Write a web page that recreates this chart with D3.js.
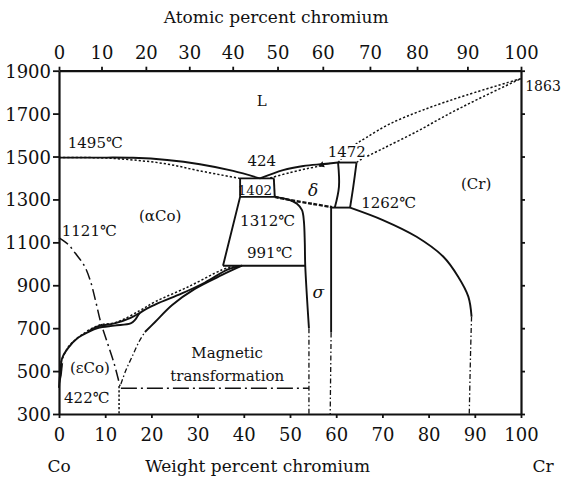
<!DOCTYPE html>
<html>
<head>
<meta charset="utf-8">
<script src="https://cdn.jsdelivr.net/npm/d3@7"></script>
<style>
  body { margin: 0; background: #fff; }
  svg text { font-family: "DejaVu Serif", serif; fill: #111; }
</style>
</head>
<body>
<div id="chart"></div>
<script>
// ---- DATA (weight % Cr, temperature °C) ----
const wtTicks = [0, 10, 20, 30, 40, 50, 60, 70, 80, 90, 100];
const tempTicks = [300, 500, 700, 900, 1100, 1300, 1500, 1700, 1900];
const atomicTicks = [0, 10, 20, 30, 40, 50, 60, 70, 80, 90, 100];
const atomicAsWt = [0, 9.2, 18.8, 28.2, 37.6, 47.3, 57.1, 67.3, 77.5, 88.4, 100];

// Co-side liquidus / solidus
const liquidusCo = [[0, 1495], [8, 1495], [16, 1494], [23.4, 1484], [30.5, 1464], [37.7, 1433], [43.5, 1398]];
const solidusCo = [[0, 1495], [8.9, 1494], [16, 1484], [23.4, 1465], [30.5, 1433], [39.2, 1398]];
const eutectic = [[39.2, 1398], [46.5, 1398]];
const alphaBound = [[39.2, 1398], [39.2, 1312], [35.5, 991]];
const boxRight = [[46.5, 1398], [46.7, 1312]];
const line1312 = [[39.2, 1312], [46.7, 1312]];
const sigmaLeft = [[46.7, 1312], [49.5, 1300], [51.5, 1280], [52.6, 1250], [53.0, 1200], [53.2, 1100], [53.3, 991], [54.1, 700]];
const sigmaLeftLow = [[54.1, 700], [54.1, 300]];
const line991 = [[35.5, 991], [53.3, 991]];
const deltaLower = [[46.7, 1312], [49.3, 1300], [55, 1279], [59.1, 1264]];
const deltaLiquidus = [[43.5, 1398], [48.5, 1437], [52.9, 1456], [57.2, 1465], [60.4, 1472]];
const deltaSolidus = [[45.7, 1400], [50, 1425], [54, 1445], [57.2, 1458]];
const peritectic = [[60.4, 1472], [64.4, 1472]];
const deltaBoxLeft = [[60.4, 1472], [60.6, 1360], [59.7, 1262]];
const deltaBoxRight = [[64.4, 1472], [63.7, 1360], [63.0, 1262]];
const line1262 = [[58.9, 1262], [63.0, 1262]];
const sigmaRight = [[58.9, 1262], [58.9, 680]];
const sigmaRightLow = [[58.9, 680], [58.7, 300]];
const crSolvus = [[63.0, 1262], [70.1, 1204], [77.4, 1126], [83.2, 1033], [86.4, 940], [88.6, 847], [89.3, 754]];
const crSolvusLow = [[89.3, 754], [89.1, 600], [88.8, 300]];
const liquidusCr = [[60.4, 1472], [63.5, 1545], [66.5, 1588], [71.6, 1652], [78.8, 1717], [88.3, 1787], [100, 1863]];
const solidusCr = [[64.4, 1472], [65.2, 1484], [70.2, 1538], [77.4, 1616], [84.6, 1701], [91.8, 1779], [100, 1863]];
const trans1121 = [[0, 1121], [2, 1090], [3.5, 1050], [5.5, 990], [6.8, 920], [8, 820], [9, 730], [10.5, 630], [12, 530], [13.2, 430]];
const trans1121Low = [[13.0, 430], [13.0, 300]];
const magnetic = [[13.4, 420], [54.1, 420]];
const curieLow = [[13.4, 440], [14.5, 505], [15.8, 566], [17.3, 636], [18.6, 682]];
const curieHigh = [[18.6, 682], [20.8, 729], [24.5, 808], [29.4, 883], [35.3, 948], [39.6, 991]];
const epsLower = [[0, 422], [0.3, 500], [0.7, 561], [2.0, 608], [4.1, 655], [6.3, 682], [8.4, 701], [12, 712], [15.5, 722], [16.5, 740], [17.5, 770], [20.8, 810], [26.6, 862], [31.6, 913], [36.6, 974], [39.6, 991]];
const epsUpper = [[6.3, 684], [8.4, 708], [12, 722], [15.5, 748], [17.5, 772]];
const epsDotted = [[0.4, 540], [2, 612], [4.5, 662], [8.4, 712], [12.5, 728], [17.5, 782], [20.8, 823], [28, 893], [35.2, 971], [38.1, 991]];
const epsWedge = [[0, 422], [0.6, 480], [0.9, 540], [0, 520]];

// labels: [text, wt%, °C, anchor, style]
const labels = [
  ["1495℃", 1.9, 1540, "start", ""],
  ["L", 43.9, 1736, "middle", ""],
  ["424", 43.9, 1456, "middle", ""],
  ["1402", 42.4, 1321, "middle", "small"],
  ["1472", 62.3, 1498, "middle", "halo"],
  ["δ", 55, 1316, "middle", "italic"],
  ["(Cr)", 90.3, 1349, "middle", ""],
  ["1262℃", 65.4, 1260, "start", ""],
  ["(αCo)", 21.9, 1200, "middle", ""],
  ["1121℃", 0.6, 1130, "start", ""],
  ["1312℃", 39.2, 1176, "start", ""],
  ["991℃", 40.7, 1027, "start", ""],
  ["σ", 56.1, 841, "middle", "italic"],
  ["Magnetic", 36.4, 561, "middle", ""],
  ["transformation", 36.4, 454, "middle", ""],
  ["(εCo)", 6.7, 491, "middle", ""],
  ["422℃", 1.1, 351, "start", ""],
  ["1863", 100.9, 1805, "start", "narrow"]
];

// ---- SETUP ----
const width = 563, height = 479;
const svg = d3.select("#chart").append("svg")
  .attr("width", width)
  .attr("height", height);

const x = d3.scaleLinear().domain([0, 100]).range([59, 521]);
const y = d3.scaleLinear().domain([300, 1900]).range([414, 70.7]);
const xAt = d3.scaleLinear().domain(atomicTicks).range(atomicAsWt.map(x));

// ---- CURVES ----
const smooth = d3.line().x(d => x(d[0])).y(d => y(d[1])).curve(d3.curveCatmullRom.alpha(0.5));
const straight = d3.line().x(d => x(d[0])).y(d => y(d[1]));

const styles = {
  solid: { w: 1.9, dash: null },
  dotted: { w: 1.5, dash: "2.2,2" },
  heavy: { w: 2.4, dash: "4,1.6" },
  dashdot: { w: 1.5, dash: "11,4,2,4" },
  longdash: { w: 1.6, dash: "16,4,2,4" },
  fine: { w: 1.3, dash: "5,2.5,1.5,2.5" }
};

const curves = [
  [liquidusCo, "solid", smooth], [solidusCo, "dotted", smooth],
  [eutectic, "solid", straight], [alphaBound, "solid", straight],
  [boxRight, "solid", straight], [line1312, "solid", straight],
  [sigmaLeft, "solid", smooth], [sigmaLeftLow, "fine", straight],
  [line991, "solid", straight], [deltaLower, "heavy", smooth],
  [deltaLiquidus, "solid", smooth], [deltaSolidus, "dotted", smooth],
  [peritectic, "solid", straight], [deltaBoxLeft, "solid", smooth],
  [deltaBoxRight, "solid", smooth], [line1262, "solid", straight],
  [sigmaRight, "solid", straight], [sigmaRightLow, "fine", straight],
  [crSolvus, "solid", smooth], [crSolvusLow, "fine", smooth],
  [liquidusCr, "dotted", smooth], [solidusCr, "dotted", smooth],
  [trans1121, "dashdot", smooth], [trans1121Low, "dotted", straight],
  [magnetic, "longdash", straight],
  [curieLow, "fine", smooth], [curieHigh, "solid", smooth],
  [epsLower, "solid", smooth], [epsUpper, "solid", smooth],
  [epsDotted, "dotted", smooth]
];

const g = svg.append("g");
curves.forEach(([pts, st, gen]) => {
  g.append("path")
    .attr("d", gen(pts))
    .attr("fill", "none")
    .attr("stroke", "#111")
    .attr("stroke-width", styles[st].w)
    .attr("stroke-dasharray", styles[st].dash)
    .attr("stroke-linejoin", "round");
});
// filled sliver where the eps boundary leaves the Co axis
g.append("path").attr("d", straight(epsWedge) + "Z").attr("fill", "#111");

// ---- AXES ----
const axisFont = "18px";
const axLeft = svg.append("g").attr("transform", `translate(${x(0)},0)`)
  .call(d3.axisLeft(y).tickValues(tempTicks).tickSize(6).tickSizeOuter(0).tickPadding(2)
    .tickFormat(d3.format("d")));
const axRight = svg.append("g").attr("transform", `translate(${x(100)},0)`)
  .call(d3.axisRight(y).tickValues(tempTicks).tickSize(4).tickSizeOuter(0).tickFormat(""));
const axBottom = svg.append("g").attr("transform", `translate(0,${y(300)})`)
  .call(d3.axisBottom(x).tickValues(wtTicks).tickSize(4).tickSizeOuter(0).tickPadding(10));
const axTop = svg.append("g").attr("transform", `translate(0,${y(1900)})`)
  .call(d3.axisTop(xAt).tickValues(atomicTicks).tickSize(4).tickSizeOuter(0).tickPadding(8));

[axLeft, axRight, axBottom, axTop].forEach(a => {
  a.select(".domain").attr("stroke", "#111").attr("stroke-width", 2.2);
  a.selectAll(".tick line").attr("stroke", "#111").attr("stroke-width", 1.8);
  a.selectAll(".tick text").attr("font-size", axisFont).attr("fill", "#111")
    .attr("font-family", "DejaVu Serif");
});
axLeft.selectAll(".tick text").attr("dy", "0.36em");

// axis titles
svg.append("text").attr("x", x(47)).attr("y", 23).attr("text-anchor", "middle")
  .attr("font-size", "17px").text("Atomic percent chromium");
svg.append("text").attr("x", x(43)).attr("y", 472).attr("text-anchor", "middle")
  .attr("font-size", "17px").text("Weight percent chromium");
svg.append("text").attr("x", x(0)).attr("y", 472).attr("text-anchor", "middle")
  .attr("font-size", "17px").text("Co");
svg.append("text").attr("x", x(100) + 22).attr("y", 472).attr("text-anchor", "middle")
  .attr("font-size", "17px").text("Cr");

// ---- LABELS ----
labels.forEach(([t, w, T, anchor, st]) => {
  const tx = svg.append("text")
    .attr("x", x(w)).attr("y", y(T))
    .attr("text-anchor", anchor)
    .attr("font-size", st === "small" ? "13.5px" : st === "narrow" ? "14px" : "15px")
    .text(t);
  if (st === "italic") tx.attr("font-style", "italic").attr("font-size", "17px");
  if (st === "halo") tx.attr("stroke", "#fff").attr("stroke-width", 4).attr("paint-order", "stroke");
});

// small arrow from the 1472 label to the peritectic corner of delta liquidus
const arrowFrom = [58.7, 1468], arrowTo = [56.9, 1461];
svg.append("line")
  .attr("x1", x(arrowFrom[0])).attr("y1", y(arrowFrom[1]))
  .attr("x2", x(arrowTo[0])).attr("y2", y(arrowTo[1]))
  .attr("stroke", "#111").attr("stroke-width", 1.3);
svg.append("path")
  .attr("d", d3.symbol(d3.symbolTriangle, 18)())
  .attr("transform", `translate(${x(arrowTo[0])},${y(arrowTo[1])}) rotate(-112)`)
  .attr("fill", "#111");
</script>
</body>
</html>
